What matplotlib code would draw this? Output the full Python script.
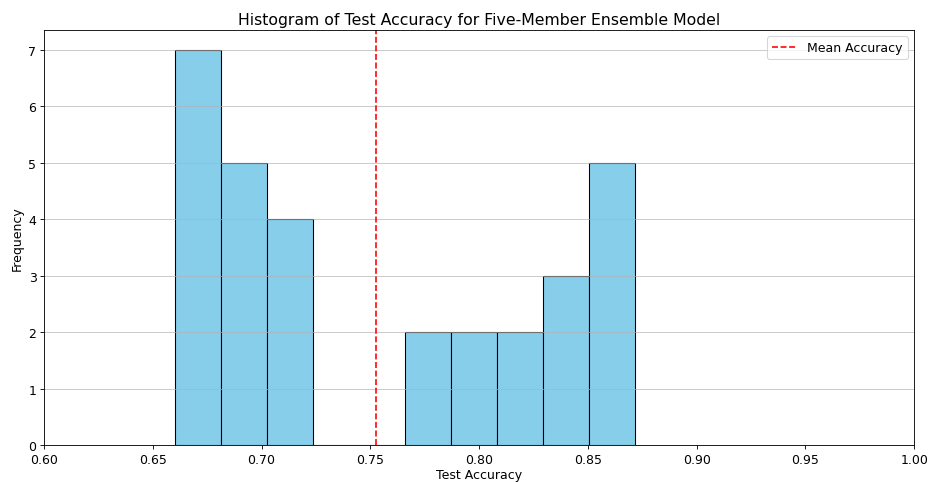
import numpy as np
import matplotlib.pyplot as plt

# histogram: 10 equal bins
bin_edges = np.linspace(0.6602, 0.8717, 11)
counts = [7, 5, 4, 0, 0, 2, 2, 2, 3, 5]
mean_accuracy = 0.7526

bin_centers = (bin_edges[:-1] + bin_edges[1:]) / 2

plt.rcParams['font.size'] = 11.6

fig = plt.figure(figsize=(12, 6.232), dpi=77.5)
ax = fig.add_subplot(111)
fig.subplots_adjust(left=0.0473, right=0.983, top=0.9358, bottom=0.0766)

ax.hist(bin_centers, bins=bin_edges, weights=counts, color='skyblue', edgecolor='black')
ax.axvline(mean_accuracy, color='red', linestyle='--', label='Mean Accuracy')

ax.set_xlim(0.6, 1.0)
ax.set_title('Histogram of Test Accuracy for Five-Member Ensemble Model', fontsize=14.6)
ax.set_xlabel('Test Accuracy', labelpad=2)
ax.set_ylabel('Frequency')
ax.legend(loc='upper right')
ax.grid(axis='y', alpha=0.75)

fig.savefig('out.png', dpi=77.5)
